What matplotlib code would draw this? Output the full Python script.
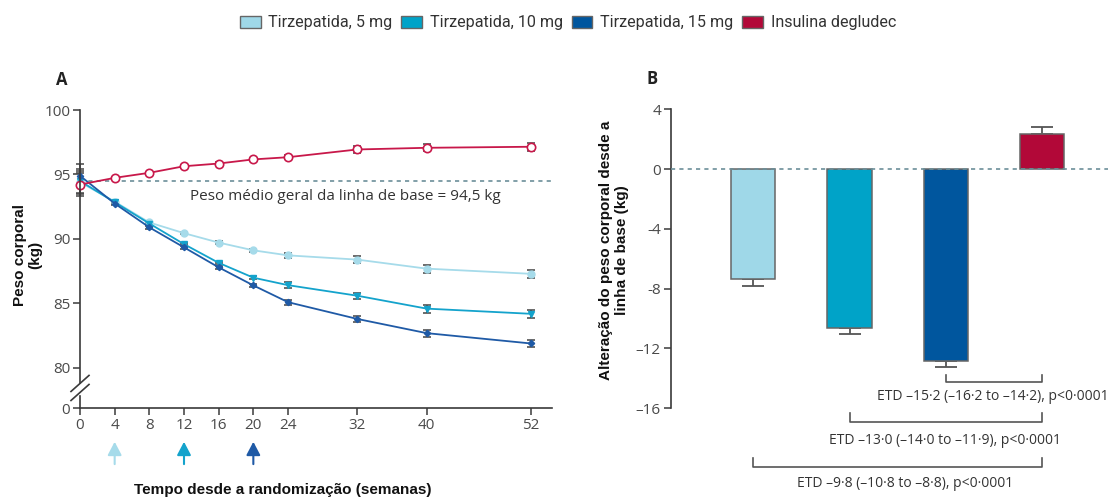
import numpy as np
import matplotlib
matplotlib.use("Agg")
import matplotlib.pyplot as plt
from matplotlib.patches import Patch

# ---- data ----
weeks = [0, 4, 8, 12, 16, 20, 24, 32, 40, 52]
tz5 = [94.4, 92.9, 91.28, 90.45, 89.72, 89.12, 88.73, 88.4, 87.7, 87.3]
tz10 = [94.5, 92.85, 91.2, 89.6, 88.15, 87.0, 86.42, 85.6, 84.6, 84.2]
tz15 = [94.9, 92.75, 90.9, 89.35, 87.8, 86.4, 85.1, 83.8, 82.7, 81.9]
insulin = [94.22, 94.74, 95.13, 95.64, 95.85, 96.17, 96.34, 96.94, 97.07, 97.15]
err5 = [0.9, 0.1, 0.1, 0.1, 0.1, 0.12, 0.22, 0.25, 0.3, 0.33]
err10 = [0.9, 0.1, 0.1, 0.1, 0.1, 0.12, 0.22, 0.25, 0.3, 0.33]
err15 = [0.9, 0.1, 0.1, 0.1, 0.1, 0.12, 0.2, 0.25, 0.28, 0.3]
errins = [0.9, 0.1, 0.1, 0.1, 0.1, 0.12, 0.15, 0.25, 0.28, 0.3]
baseline = 94.5

groups = ["Tirzepatida, 5 mg", "Tirzepatida, 10 mg", "Tirzepatida, 15 mg", "Insulina degludec"]
change = [-7.39, -10.63, -12.84, 2.34]
change_err = [0.45, 0.44, 0.44, 0.45]
etd_labels = ["ETD \u20139\u00b78 (\u201310\u00b78 to \u20138\u00b78), p<0\u00b70001",
              "ETD \u201313\u00b70 (\u201314\u00b70 to \u201311\u00b79), p<0\u00b70001",
              "ETD \u201315\u00b72 (\u201316\u00b72 to \u201314\u00b72), p<0\u00b70001"]
arrow_weeks = [4, 12, 20]

bar_cols = ["#9fd8e8", "#00a3c8", "#00569e", "#b20838"]
line_cols = ["#a6dbea", "#14a3cc", "#1f5aa6", "#c8184a"]
axcol = "#3a3a3a"
tickfont = "Open Sans"

fig = plt.figure(figsize=(11.08, 4.97), dpi=100)

# ---- panel A ----
W, H = 1108, 497
ybot = 95 - (408.3 - 175) / 12.87
axA = fig.add_axes([80 / W, 1 - 408.3 / H, 471.7 / W, (408.3 - 110) / H])
axA.set_xlim(0, 471.7 / 8.667)
axA.set_ylim(ybot, 100)

series = [(tz5, err5, "o", 5), (tz10, err10, "v", 5), (tz15, err15, "D", 3.2)]
for (vals, e, m, ms), c in zip(series, line_cols[:3]):
    axA.errorbar(weeks, vals, yerr=e, fmt="none", ecolor="#444444", elinewidth=1.1,
                 capsize=3, capthick=1.1, zorder=2, clip_on=False)
    axA.plot(weeks, vals, color=c, marker=m, ms=ms, lw=1.3, mec=c, zorder=3, clip_on=False)
axA.errorbar(weeks, insulin, yerr=errins, fmt="none", ecolor="#444444", elinewidth=1.1,
             capsize=3, capthick=1.1, zorder=2, clip_on=False)
axA.plot(weeks, insulin, color=line_cols[3], marker="o", ms=6, mfc="white",
         mec=line_cols[3], mew=1.2, lw=1.3, zorder=3, clip_on=False)

axA.axhline(baseline, color="#6c8f99", lw=1.2, ls=(0, (2.5, 2.5)), zorder=1)
axA.text(12.7, 93.3, "Peso m\u00e9dio geral da linha de base = 94,5 kg", fontsize=11,
         family=tickfont, color="#333333", va="center")

for s in ["top", "right", "left"]:
    axA.spines[s].set_visible(False)
axA.spines["bottom"].set_color(axcol)
axA.spines["bottom"].set_linewidth(1.2)

def yv(py):
    return 95 - (py - 175) / 12.87

# broken left axis
axA.plot([0, 0], [yv(383), 100], color=axcol, lw=1.2, clip_on=False, zorder=4)
axA.plot([0, 0], [yv(396), ybot], color=axcol, lw=1.2, clip_on=False, zorder=4)
dx = 9 / 8.667
for pyc in [383.5, 392.5]:
    axA.plot([-dx, dx], [yv(pyc + 8), yv(pyc - 8)], color=axcol, lw=1.2,
             clip_on=False, zorder=5)

axA.set_xticks(weeks)
axA.set_xticklabels([str(w) for w in weeks])
axA.set_yticks([ybot, 80, 85, 90, 95, 100])
axA.set_yticklabels(["0", "80", "85", "90", "95", "100"])
axA.tick_params(axis="both", colors=axcol, labelcolor="#4a4a4a", labelsize=11,
                length=5, width=1.1, pad=2)
for lab in axA.get_xticklabels() + axA.get_yticklabels():
    lab.set_family(tickfont)

for w, c in zip(arrow_weeks, line_cols[:3]):
    axA.annotate("", xy=(w, yv(441.7)), xytext=(w, yv(464)),
                 arrowprops=dict(arrowstyle="-|>,head_width=0.42,head_length=0.8",
                                 color=c, lw=1.5, shrinkA=0, shrinkB=0),
                 annotation_clip=False)

fig.text(283 / W, 1 - 490 / H, "Tempo desde a randomiza\u00e7\u00e3o (semanas)", ha="center",
         va="center", fontsize=11, fontweight="bold", family="Liberation Sans", color="#111111")
fig.text(28 / W, 1 - 255 / H, "Peso corporal\n(kg)", ha="center", va="center", rotation=90,
         fontsize=11, fontweight="bold", family="Liberation Sans", color="#111111",
         linespacing=1.1)
fig.text(56 / W, 1 - 80 / H, "A", fontsize=12, fontweight="bold", family="Open Sans",
         color="#222222", va="center")

# ---- panel B ----
unit = 96.2
x0 = 753.3
axB = fig.add_axes([670.7 / W, 1 - 408 / H, (W - 670.7) / W, (408 - 109.3) / H])
axB.set_xlim((670.7 - x0) / unit, (W - x0) / unit)
axB.set_ylim(-16, 4)
xpos = np.arange(len(groups))
axB.bar(xpos, change, width=0.46, color=bar_cols, edgecolor="#666666", lw=1.1, zorder=2)
lower = [e if v < 0 else 0 for v, e in zip(change, change_err)]
upper = [e if v > 0 else 0 for v, e in zip(change, change_err)]
axB.errorbar(xpos, change, yerr=[lower, upper], fmt="none", ecolor="#555555",
             elinewidth=1.3, capsize=8, capthick=1.3, zorder=1)
axB.axhline(0, color="#6c8f99", lw=1.2, ls=(0, (2.5, 2.5)), zorder=3)

for s in ["top", "right", "bottom"]:
    axB.spines[s].set_visible(False)
axB.spines["left"].set_color(axcol)
axB.spines["left"].set_linewidth(1.2)
axB.set_xticks([])
axB.set_yticks([4, 0, -4, -8, -12, -16])
axB.set_yticklabels(["4", "0", "-4", "-8", "\u201312", "\u201316"])
axB.tick_params(axis="y", colors=axcol, labelcolor="#4a4a4a", labelsize=11,
                length=5, width=1.1, pad=2)
for lab in axB.get_yticklabels():
    lab.set_family(tickfont)

def bv(py):
    return (169 - py) / 14.93

brackets = [(0, bv(466.7), bv(458.3), 1.58, bv(483.3), "center"),
            (1, bv(421.7), bv(413.3), 1.99, bv(440), "center"),
            (2, bv(381.7), bv(375), (877 - x0) / unit, bv(396.7), "left")]
for (xs, yh, yt, tx, ty, ha), lab in zip(brackets, etd_labels):
    axB.plot([xs, xs, 3, 3], [yt, yh, yh, yt], color="#555555", lw=1.2, clip_on=False)
    axB.text(tx, ty, lab, ha=ha, va="center", fontsize=10, family=tickfont,
             color="#333333", clip_on=False)

fig.text(614 / W, 1 - 250 / H, "Altera\u00e7\u00e3o do peso corporal desde a\nlinha de base (kg)",
         ha="center", va="center", rotation=90, fontsize=11, fontweight="bold",
         family="Liberation Sans", color="#111111", linespacing=1.15)
fig.text(647 / W, 1 - 78.5 / H, "B", fontsize=12, fontweight="bold", family="Open Sans",
         color="#222222", va="center")

# ---- legend ----
handles = [Patch(facecolor=c, edgecolor="#666666", lw=1) for c in bar_cols]
leg = fig.legend(handles, groups, loc="center", bbox_to_anchor=(568 / W, 1 - 23 / H), ncol=4,
                 frameon=False, prop={"family": "Roboto", "size": 11.6}, handlelength=1.28,
                 handleheight=0.77, handletextpad=0.48, columnspacing=0.56)
for t in leg.get_texts():
    t.set_color("#333333")

fig.savefig("out.png", dpi=100)
